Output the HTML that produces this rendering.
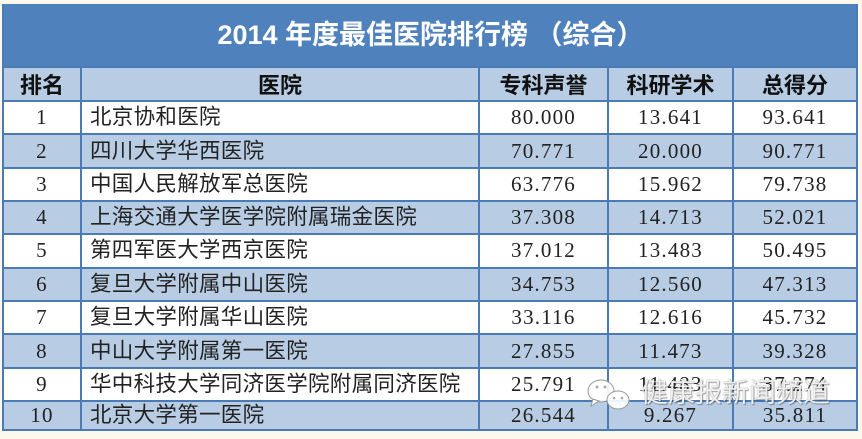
<!DOCTYPE html>
<html><head><meta charset="utf-8"><style>
html,body{margin:0;padding:0;}
body{width:862px;height:439px;background:#fcf8ee;position:relative;overflow:hidden;}
.a{position:absolute;}
.title{left:3px;top:4px;width:855px;height:63px;background:#4f81bd;color:#fff;font:bold 27px "Liberation Sans","Noto Sans CJK SC",sans-serif;text-align:center;line-height:63px;}
.bg{left:3px;width:855px;}
.hl{height:2px;left:3px;width:855px;background:#4a7bb7;}
.vl{width:2px;top:67px;height:364px;background:#4a7bb7;}
.h{font:bold 22px "Noto Sans CJK SC","Noto Serif CJK SC",sans-serif;color:#111;text-align:center;line-height:34px;top:67px;height:34px;white-space:nowrap;}
.c{font-family:"Liberation Serif","Noto Serif CJK SC",serif;font-size:21px;color:#222;text-align:center;letter-spacing:1.2px;white-space:nowrap;}
.n{font-family:"Liberation Sans","Noto Sans CJK SC",sans-serif;font-size:21.5px;color:#222;letter-spacing:0.3px;white-space:nowrap;width:390px;}
</style></head><body>
<div class="a title">2014 年度最佳医院排行榜 （综合）</div>
<div class="a bg" style="top:67px;height:34px;background:#b8cce4"></div>
<div class="a bg" style="top:134px;height:34px;background:#b8cce4"></div>
<div class="a bg" style="top:201px;height:33px;background:#b8cce4"></div>
<div class="a bg" style="top:267px;height:34px;background:#b8cce4"></div>
<div class="a bg" style="top:334px;height:34px;background:#b8cce4"></div>
<div class="a bg" style="top:401px;height:30px;background:#b8cce4"></div>
<div class="a bg" style="top:101px;height:33px;background:#fff"></div>
<div class="a bg" style="top:168px;height:33px;background:#fff"></div>
<div class="a bg" style="top:234px;height:33px;background:#fff"></div>
<div class="a bg" style="top:301px;height:33px;background:#fff"></div>
<div class="a bg" style="top:368px;height:33px;background:#fff"></div>

<div class="a hl" style="top:66px"></div>
<div class="a hl" style="top:100px"></div>
<div class="a hl" style="top:133px"></div>
<div class="a hl" style="top:167px"></div>
<div class="a hl" style="top:200px"></div>
<div class="a hl" style="top:233px"></div>
<div class="a hl" style="top:267px"></div>
<div class="a hl" style="top:300px"></div>
<div class="a hl" style="top:333px"></div>
<div class="a hl" style="top:367px"></div>
<div class="a hl" style="top:400px"></div>
<div class="a hl" style="top:429px"></div>
<div class="a vl" style="left:2px;top:4px;height:427px"></div>
<div class="a vl" style="left:80px"></div>
<div class="a vl" style="left:478px"></div>
<div class="a vl" style="left:607px"></div>
<div class="a vl" style="left:732px"></div>
<div class="a vl" style="left:856px;top:4px;height:427px"></div>

<div class="a h" style="left:3px;width:78px">排名</div>
<div class="a h" style="left:81px;width:398px">医院</div>
<div class="a h" style="left:479px;width:129px">专科声誉</div>
<div class="a h" style="left:608px;width:125px">科研学术</div>
<div class="a h" style="left:733px;width:124px">总得分</div>

<div style="position:absolute;left:0;top:0;width:862px;height:439px">
<div class="a c" style="left:3px;width:78px;top:101px;line-height:33px">1</div>
<div class="a n" style="left:90px;top:101px;line-height:33px">北京协和医院</div>
<div class="a c" style="left:479px;width:129px;top:101px;line-height:33px">80.000</div>
<div class="a c" style="left:608px;width:125px;top:101px;line-height:33px">13.641</div>
<div class="a c" style="left:733px;width:124px;top:101px;line-height:33px">93.641</div>

<div class="a c" style="left:3px;width:78px;top:134px;line-height:34px">2</div>
<div class="a n" style="left:90px;top:134px;line-height:34px">四川大学华西医院</div>
<div class="a c" style="left:479px;width:129px;top:134px;line-height:34px">70.771</div>
<div class="a c" style="left:608px;width:125px;top:134px;line-height:34px">20.000</div>
<div class="a c" style="left:733px;width:124px;top:134px;line-height:34px">90.771</div>

<div class="a c" style="left:3px;width:78px;top:168px;line-height:33px">3</div>
<div class="a n" style="left:90px;top:168px;line-height:33px">中国人民解放军总医院</div>
<div class="a c" style="left:479px;width:129px;top:168px;line-height:33px">63.776</div>
<div class="a c" style="left:608px;width:125px;top:168px;line-height:33px">15.962</div>
<div class="a c" style="left:733px;width:124px;top:168px;line-height:33px">79.738</div>

<div class="a c" style="left:3px;width:78px;top:201px;line-height:33px">4</div>
<div class="a n" style="left:90px;top:201px;line-height:33px">上海交通大学医学院附属瑞金医院</div>
<div class="a c" style="left:479px;width:129px;top:201px;line-height:33px">37.308</div>
<div class="a c" style="left:608px;width:125px;top:201px;line-height:33px">14.713</div>
<div class="a c" style="left:733px;width:124px;top:201px;line-height:33px">52.021</div>

<div class="a c" style="left:3px;width:78px;top:234px;line-height:33px">5</div>
<div class="a n" style="left:90px;top:234px;line-height:33px">第四军医大学西京医院</div>
<div class="a c" style="left:479px;width:129px;top:234px;line-height:33px">37.012</div>
<div class="a c" style="left:608px;width:125px;top:234px;line-height:33px">13.483</div>
<div class="a c" style="left:733px;width:124px;top:234px;line-height:33px">50.495</div>

<div class="a c" style="left:3px;width:78px;top:267px;line-height:34px">6</div>
<div class="a n" style="left:90px;top:267px;line-height:34px">复旦大学附属中山医院</div>
<div class="a c" style="left:479px;width:129px;top:267px;line-height:34px">34.753</div>
<div class="a c" style="left:608px;width:125px;top:267px;line-height:34px">12.560</div>
<div class="a c" style="left:733px;width:124px;top:267px;line-height:34px">47.313</div>

<div class="a c" style="left:3px;width:78px;top:301px;line-height:33px">7</div>
<div class="a n" style="left:90px;top:301px;line-height:33px">复旦大学附属华山医院</div>
<div class="a c" style="left:479px;width:129px;top:301px;line-height:33px">33.116</div>
<div class="a c" style="left:608px;width:125px;top:301px;line-height:33px">12.616</div>
<div class="a c" style="left:733px;width:124px;top:301px;line-height:33px">45.732</div>

<div class="a c" style="left:3px;width:78px;top:334px;line-height:34px">8</div>
<div class="a n" style="left:90px;top:334px;line-height:34px">中山大学附属第一医院</div>
<div class="a c" style="left:479px;width:129px;top:334px;line-height:34px">27.855</div>
<div class="a c" style="left:608px;width:125px;top:334px;line-height:34px">11.473</div>
<div class="a c" style="left:733px;width:124px;top:334px;line-height:34px">39.328</div>

<div class="a c" style="left:3px;width:78px;top:368px;line-height:33px">9</div>
<div class="a n" style="left:90px;top:368px;line-height:33px">华中科技大学同济医学院附属同济医院</div>
<div class="a c" style="left:479px;width:129px;top:368px;line-height:33px">25.791</div>
<div class="a c" style="left:608px;width:125px;top:368px;line-height:33px">11.483</div>
<div class="a c" style="left:733px;width:124px;top:368px;line-height:33px">37.274</div>

<div class="a c" style="left:3px;width:78px;top:401px;line-height:29px">10</div>
<div class="a n" style="left:90px;top:401px;line-height:29px">北京大学第一医院</div>
<div class="a c" style="left:479px;width:129px;top:401px;line-height:29px">26.544</div>
<div class="a c" style="left:608px;width:125px;top:401px;line-height:29px">9.267</div>
<div class="a c" style="left:733px;width:124px;top:401px;line-height:29px">35.811</div>
</div>

<svg class="a" style="left:585px;top:372px" width="50" height="40" viewBox="0 0 50 40">
<ellipse cx="16" cy="19" rx="13" ry="11" fill="#fff" fill-opacity="0.9" stroke="#999" stroke-width="1"/>
<path d="M8 27 L6 34 L14 29 Z" fill="#fff" stroke="#999" stroke-width="1"/>
<ellipse cx="33" cy="28" rx="11" ry="9" fill="#fff" fill-opacity="0.9" stroke="#999" stroke-width="1"/>
<circle cx="12" cy="15" r="1.5" fill="#aaa"/><circle cx="20" cy="15" r="1.5" fill="#aaa"/>
<circle cx="29" cy="26" r="1.3" fill="#aaa"/><circle cx="37" cy="26" r="1.3" fill="#aaa"/>
</svg>
<div class="a" style="left:641px;top:374px;font:27px 'Noto Sans CJK SC',sans-serif;color:rgba(255,255,255,0.88);line-height:34px;white-space:nowrap;text-shadow:0 0 1px #777,1px 1px 1px rgba(0,0,0,0.35);">健康报新闻频道</div>
</body></html>
